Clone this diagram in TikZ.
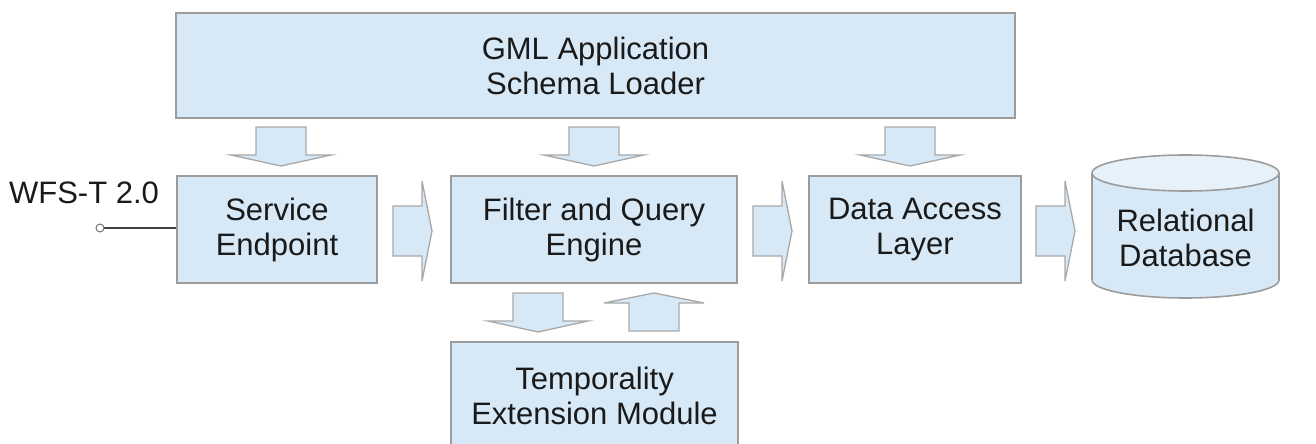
\documentclass[tikz,border=0pt]{standalone}
\usepackage{fontspec}
\setmainfont{Liberation Sans}
\definecolor{boxfill}{HTML}{D7E9F7}
\definecolor{boxline}{HTML}{9C9C9C}
\definecolor{arrline}{HTML}{A8A8A8}
\definecolor{dbtop}{HTML}{E6F1FA}
\definecolor{txt}{HTML}{1A1A1A}
\begin{document}
\begin{tikzpicture}[x=1pt,y=-1pt,
  box/.style={draw=boxline, fill=boxfill, line width=1.6pt, inner sep=0pt,
    align=center, text=txt, font=\fontsize{31}{35}\selectfont},
  lbl/.style={text=txt, align=center, font=\fontsize{31}{35}\selectfont, inner sep=0pt},
  barrow/.style={draw=arrline, fill=boxfill, line width=1.3pt, line join=miter},
  pics/darrow/.style={code={\draw[barrow] (-25,0) -- (25,0) -- (25,28) -- (50,28) -- (0,39) -- (-50,28) -- (-25,28) -- cycle;}},
  pics/uarrow/.style={code={\draw[barrow] (-25,0) -- (25,0) -- (25,-28) -- (50,-28) -- (0,-38) -- (-50,-28) -- (-25,-28) -- cycle;}},
  pics/rarrow/.style={code={\draw[barrow] (0,-25) -- (29,-25) -- (29,-50) -- (39,0) -- (29,50) -- (29,25) -- (0,25) -- cycle;}}
]
\useasboundingbox (0,0) rectangle (1316,444);

% boxes
\node[box, minimum width=839, minimum height=105] (gml) at (595.5,65.5) {GML Application\\Schema Loader};
\node[box, minimum width=200, minimum height=107] (se) at (277,229.5) {Service\\Endpoint};
\node[box, minimum width=286, minimum height=107] (fq) at (594,229.5) {Filter and Query\\Engine};
\node[box, minimum width=212, minimum height=107] (da) at (915,229.5) {Data Access\\Layer};
\node[box, minimum width=287, minimum height=108] (tm) at (594.5,396) {Temporality\\Extension Module};

% database cylinder
\fill[boxfill] (1092,173) -- (1092,280) arc[start angle=180, end angle=0, x radius=93.5, y radius=18] -- (1279,173) -- cycle;
\draw[boxline, line width=1.6pt] (1092,173) -- (1092,280) arc[start angle=180, end angle=0, x radius=93.5, y radius=18] -- (1279,173);
\draw[boxline, fill=dbtop, line width=1.6pt] (1185.5,173) ellipse[x radius=93.5, y radius=18];
\node[lbl] (db) at (1185.5,238) {Relational\\Database};

% block arrows
\pic at (281,127) {darrow};
\pic at (594,127) {darrow};
\pic at (910,127) {darrow};
\pic at (393,231) {rarrow};
\pic at (753,231) {rarrow};
\pic at (1036,231) {rarrow};
\pic at (538,293) {darrow};
\pic at (654,331) {uarrow};

% WFS-T interface
\node[lbl] (wfslbl) at (84,193) {WFS-T 2.0};
\coordinate (wfs) at (100,228);
\draw[line width=1.5pt, draw=black!75] (se.west |- wfs) -- (wfs);
\draw[line width=1pt, draw=black!55, fill=white] (wfs) circle[radius=4];
\end{tikzpicture}
\end{document}
